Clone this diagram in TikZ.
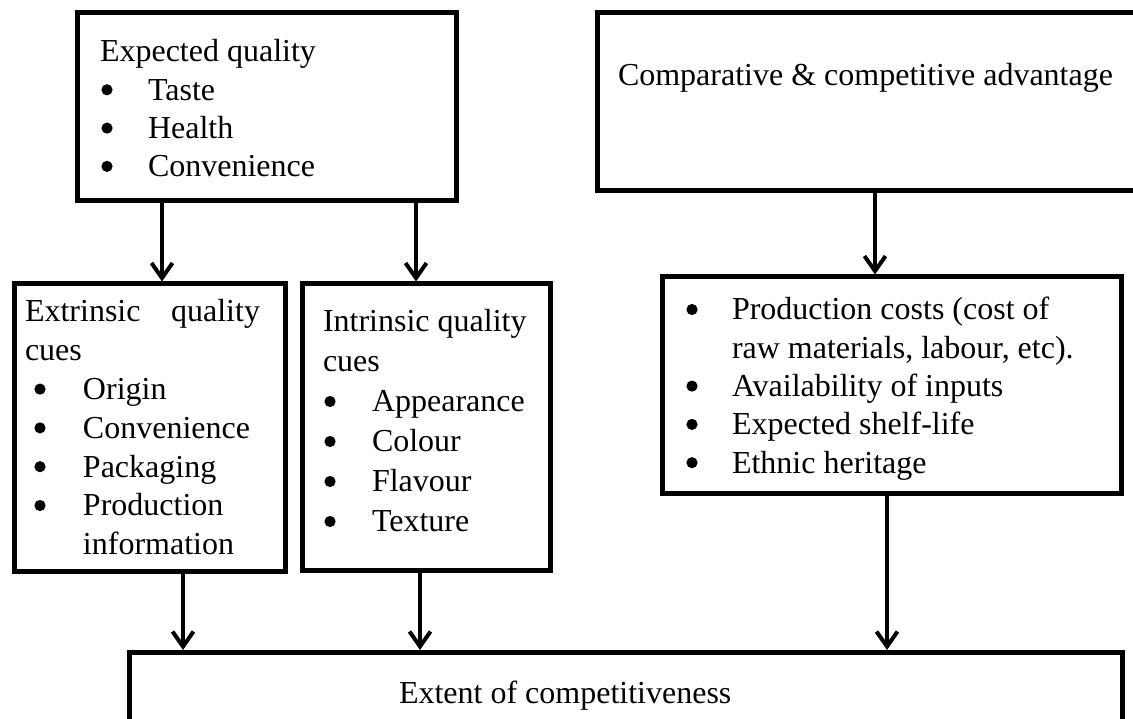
\documentclass[tikz,border=0pt]{standalone}
\usepackage{fontspec}
\setmainfont{Liberation Serif}
\usetikzlibrary{arrows.meta}
\begin{document}
\begin{tikzpicture}[x=1pt,y=-1pt,
  box/.style={draw, line width=5pt, rectangle, anchor=north west, inner sep=0pt, outer sep=0pt},
  txt/.style={anchor=base west, inner sep=0pt, outer sep=0pt},
  arr/.style={line width=4pt, -{Straight Barb[length=15pt,width=21pt]}, shorten >=2.5pt},
  dot/.style={fill=black},
]
\useasboundingbox (0,0) rectangle (1133,719);
\clip (0,0) rectangle (1133,719);
% boxes
\node[box, minimum width=379pt, minimum height=188pt] (eq) at (77,13) {};
\node[box, minimum width=560pt, minimum height=178pt] (ca) at (597,13) {};
\node[box, minimum width=271pt, minimum height=287pt] (ext) at (14,284) {};
\node[box, minimum width=248pt, minimum height=286pt] (int) at (302,284) {};
\node[box, minimum width=459pt, minimum height=216pt] (pc) at (662,277) {};
\node[box, minimum width=993pt, minimum height=120pt] (ec) at (129,652.5) {};
% texts
\node[txt, font=\fontsize{32}{38.3}\selectfont] (eqt) at (100,62) {\begin{tabular}[t]{@{}l@{}l@{}}
\multicolumn{2}{@{}l@{}}{Expected quality}\\
\makebox[48pt]{}&Taste\\
\makebox[48pt]{}&Health\\
\makebox[48pt]{}&Convenience
\end{tabular}};
\node[txt, font=\fontsize{32}{38}\selectfont] (cat) at (618,86) {Comparative \& competitive advantage};
\node[txt, font=\fontsize{32}{38.8}\selectfont] (extt) at (25,322) {\begin{tabular}[t]{@{}l@{}l@{}}
\multicolumn{2}{@{}l@{}}{\makebox[235pt][s]{Extrinsic\hfill quality}}\\
\multicolumn{2}{@{}l@{}}{cues}\\
\makebox[58pt]{}&Origin\\
\makebox[58pt]{}&Convenience\\
\makebox[58pt]{}&Packaging\\
\makebox[58pt]{}&Production\\
&information
\end{tabular}};
\node[txt, font=\fontsize{32}{40}\selectfont] (intt) at (323,332) {\begin{tabular}[t]{@{}l@{}l@{}}
\multicolumn{2}{@{}l@{}}{Intrinsic quality}\\
\multicolumn{2}{@{}l@{}}{cues}\\
\makebox[49pt]{}&Appearance\\
\makebox[49pt]{}&Colour\\
\makebox[49pt]{}&Flavour\\
\makebox[49pt]{}&Texture
\end{tabular}};
\node[txt, font=\fontsize{32}{38.3}\selectfont] (pct) at (686,320) {\begin{tabular}[t]{@{}l@{}l@{}}
\makebox[46pt]{}&Production costs (cost of\\
&raw materials, labour, etc).\\
\makebox[46pt]{}&Availability of inputs\\
\makebox[46pt]{}&Expected shelf-life\\
\makebox[46pt]{}&Ethnic heritage
\end{tabular}};
\node[txt, font=\fontsize{32}{38}\selectfont] (ect) at (399,703) {Extent of competitiveness};
% bullets
\foreach \y in {89.8,128.1,166.4} \fill[dot] (107,\y) circle (5.6pt);
\foreach \y in {389.1,427.9,466.7,505.5} \fill[dot] (40,\y) circle (5.6pt);
\foreach \y in {401.5,441.5,481.5,521.5} \fill[dot] (330,\y) circle (5.6pt);
\foreach \y in {309.5,386.1,424.4,462.7} \fill[dot] (692,\y) circle (5.6pt);
% arrows
\draw[arr] (eq.south -| 162,0) -- (ext.north -| 162,0);
\draw[arr] (eq.south -| 416,0) -- (int.north -| 416,0);
\draw[arr] (ca.south -| 875,0) -- (pc.north -| 875,0);
\draw[arr] (ext.south -| 183,0) -- (ec.north -| 183,0);
\draw[arr] (int.south -| 420,0) -- (ec.north -| 420,0);
\draw[arr] (pc.south -| 887,0) -- (ec.north -| 887,0);
\end{tikzpicture}
\end{document}
